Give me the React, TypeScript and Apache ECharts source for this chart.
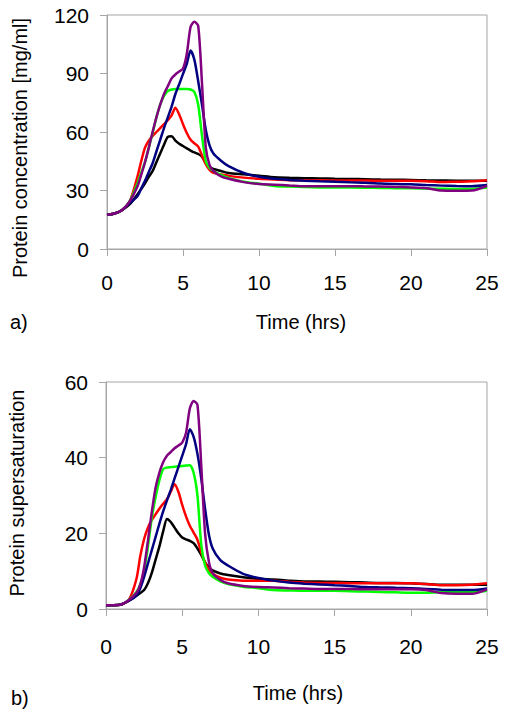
import React, { useEffect, useRef } from "react";
import * as echarts from "echarts";

const times = [0, 0.5, 1, 1.5, 2, 2.25, 2.5, 2.75, 3, 3.25, 3.5, 3.75, 4, 4.25, 4.5, 4.75, 5, 5.25, 5.5, 5.75, 6, 6.25, 6.5, 6.75, 7, 7.5, 8, 9, 10, 11, 12, 13, 14, 15, 16, 17, 18, 19, 20, 21, 22, 23, 24, 25];

// Panel a) protein concentration [mg/ml]
const concBlack = [17.5, 18.2, 20, 23, 28, 30.8, 33.7, 37, 40, 44.5, 49, 53.5, 57.5, 57.8, 55.6, 54, 52.8, 51.6, 50.5, 49.5, 48.7, 47.3, 44, 42, 41, 40, 39, 38.3, 37.6, 36.8, 36.5, 36.3, 36.2, 36, 35.9, 35.8, 35.6, 35.5, 35.4, 35.2, 35.1, 35, 35, 35];
const concRed = [17.5, 18.2, 20, 24.5, 37, 45, 52, 55.5, 58, 60, 62, 64, 66, 68.5, 72.5, 69, 64, 59.5, 56, 54.2, 52.5, 48, 43.5, 40.5, 39, 38.2, 37.5, 36.6, 36, 35.6, 35.3, 35.2, 35.2, 35.1, 35.1, 35.1, 35, 35, 35, 34.8, 34.3, 34.5, 34.7, 35.3];
const concGreen = [17.5, 18.2, 20, 24.5, 33.5, 39, 44.5, 52, 59.5, 67.5, 74, 78.5, 81, 81.8, 82, 82, 82, 82, 81.8, 80.5, 74, 58, 45, 41.5, 40, 38, 36.5, 34.5, 33.5, 32.3, 32, 31.8, 31.6, 31.5, 31.5, 31.4, 31.3, 31.2, 31.1, 31, 30.9, 30.8, 30.8, 31.5];
const concBlue = [17.5, 18.2, 20, 23.5, 27, 31, 35, 39.5, 44, 50, 56, 62, 67.5, 73, 79.5, 84.5, 89.8, 95, 101.8, 97, 86, 74, 61, 53, 49, 45.3, 42.5, 39, 37, 36, 35.4, 35, 34.7, 34.5, 34.2, 34, 33.6, 33.3, 33.2, 32.8, 32.5, 32.3, 32.2, 32.8];
const concPurple = [17.5, 18.2, 20, 24.5, 32, 38, 44.5, 52, 60, 67.5, 74, 79.5, 83.5, 87.5, 89.5, 91, 92.5, 100, 114, 116.5, 114.5, 85, 52, 43, 40, 37.3, 36, 34.3, 33.3, 33, 32.6, 32.2, 32.2, 32.2, 32.2, 32.1, 32, 31.8, 31.6, 31.2, 30, 29.9, 30, 32.4];

// Panel b) protein supersaturation
const satBlack = [1, 1, 1.2, 2.2, 3.5, 4.2, 5, 6.8, 9.5, 13, 16.5, 20.5, 23.8, 23, 21.5, 20, 18.9, 18.4, 18, 17.4, 16, 14.3, 12.3, 11, 10.2, 9.4, 9, 8.4, 8, 7.8, 7.5, 7.3, 7.3, 7.2, 7.1, 7, 6.9, 6.9, 6.8, 6.6, 6.4, 6.4, 6.4, 6.4];
const satRed = [1, 1, 1.2, 2.4, 8, 14, 18.5, 21.5, 23.5, 25, 26.5, 27.8, 29, 31, 33, 31, 27.5, 24.5, 22, 20.2, 18.3, 15, 12.3, 10.3, 9.3, 8.3, 7.8, 7.5, 7.5, 7.5, 7.2, 7, 6.9, 6.9, 6.8, 6.8, 6.8, 6.8, 6.8, 6.6, 6.3, 6.3, 6.4, 6.8];
const satGreen = [1, 1, 1.2, 2.4, 4.5, 6.5, 10, 16.5, 24, 29.5, 34, 37, 37.4, 37.5, 37.6, 37.7, 37.8, 37.9, 38, 36, 30, 17, 11.5, 9.5, 8.5, 7.3, 6.6, 5.9, 5.5, 5, 4.9, 4.8, 4.8, 4.8, 4.7, 4.6, 4.5, 4.4, 4.3, 4.3, 4.4, 4.4, 4.4, 4.8];
const satBlue = [1, 1, 1.2, 2.2, 3.5, 5.5, 8.5, 12, 15.5, 19, 22.5, 25.8, 28.7, 31.5, 34.5, 37.5, 40.5, 43.5, 47.5, 45.5, 41, 34.5, 26.5, 19.7, 16, 12.9, 11.5, 9.3, 8.2, 7.5, 7, 6.7, 6.5, 6.3, 6.1, 5.8, 5.7, 5.6, 5.5, 5.3, 5.1, 5, 5, 5.4];
const satPurple = [1, 1, 1.2, 2.4, 4.3, 6.5, 11, 18, 25.5, 32, 36, 38.8, 40.5, 41.5, 42.5, 43.2, 44, 46.5, 53, 55, 54, 38, 20, 12.5, 9.5, 7.7, 6.8, 6.1, 5.8, 5.7, 5.5, 5.4, 5.3, 5.3, 5.3, 5.2, 5.2, 5.2, 5.2, 5, 4.2, 4, 4, 5.2];

const xTicks = [0, 5, 10, 15, 20, 25];
const concTicks = [0, 30, 60, 90, 120];
const satTicks = [0, 20, 40, 60];

const colors = ["#000000", "#ff0000", "#00ff00", "#000080", "#800080"];
const FONT = "'Liberation Sans', Arial, sans-serif";

function pairs(vals: number[]) {
  return times.map((t, i) => [t, vals[i]]);
}

export default function App() {
  const ref = useRef<HTMLDivElement>(null);
  useEffect(() => {
    document.body.style.margin = "0";
    const chart = echarts.init(ref.current!, null, { renderer: "svg" });
    const axisGrey = "#a6a6a6";
    const xAxisBase = (gridIndex: number, margin: number) => ({
      type: "value" as const,
      gridIndex,
      min: xTicks[0],
      max: xTicks[xTicks.length - 1],
      interval: 5,
      axisLine: { show: true, lineStyle: { color: axisGrey, width: 1 } },
      axisTick: { show: true, inside: false, length: 7, lineStyle: { color: axisGrey } },
      axisLabel: { color: "#000", fontSize: 21, fontFamily: FONT, margin },
      splitLine: { show: false },
    });
    const yAxisBase = (gridIndex: number, ticks: number[]) => ({
      type: "value" as const,
      gridIndex,
      min: ticks[0],
      max: ticks[ticks.length - 1],
      interval: ticks[1] - ticks[0],
      axisLine: { show: true, lineStyle: { color: axisGrey, width: 1 } },
      axisTick: { show: true, inside: false, length: 7, lineStyle: { color: axisGrey } },
      axisLabel: { color: "#000", fontSize: 21, fontFamily: FONT, margin: 18 },
      splitLine: { show: false },
    });
    const mk = (name: string, vals: number[], idx: number, c: number) => ({
      name,
      type: "line" as const,
      xAxisIndex: idx,
      yAxisIndex: idx,
      data: pairs(vals),
      showSymbol: false,
      smooth: 0.25,
      lineStyle: { color: colors[c], width: 2.5 },
      itemStyle: { color: colors[c] },
    });
    chart.setOption({
      animation: false,
      backgroundColor: "#ffffff",
      grid: [
        { left: 107, top: 15, width: 380, height: 234, show: true, borderColor: axisGrey, borderWidth: 1 },
        { left: 106, top: 382, width: 381, height: 227, show: true, borderColor: axisGrey, borderWidth: 1 },
      ],
      xAxis: [xAxisBase(0, 23), xAxisBase(1, 27)],
      yAxis: [yAxisBase(0, concTicks), yAxisBase(1, satTicks)],
      series: [
        mk("a-black", concBlack, 0, 0),
        mk("a-red", concRed, 0, 1),
        mk("a-green", concGreen, 0, 2),
        mk("a-blue", concBlue, 0, 3),
        mk("a-purple", concPurple, 0, 4),
        mk("b-black", satBlack, 1, 0),
        mk("b-red", satRed, 1, 1),
        mk("b-green", satGreen, 1, 2),
        mk("b-blue", satBlue, 1, 3),
        mk("b-purple", satPurple, 1, 4),
      ],
      graphic: [
        {
          type: "text",
          x: 20,
          y: 148,
          rotation: Math.PI / 2,
          style: { text: "Protein concentration [mg/ml]", font: `20px ${FONT}`, fill: "#000", align: "center", verticalAlign: "middle" },
        },
        {
          type: "text",
          x: 17,
          y: 493,
          rotation: Math.PI / 2,
          style: { text: "Protein supersaturation", font: `20px ${FONT}`, fill: "#000", align: "center", verticalAlign: "middle" },
        },
        {
          type: "text",
          x: 301,
          y: 322,
          style: { text: "Time (hrs)", font: `20px ${FONT}`, fill: "#000", align: "center", verticalAlign: "middle" },
        },
        {
          type: "text",
          x: 298,
          y: 693,
          style: { text: "Time (hrs)", font: `20px ${FONT}`, fill: "#000", align: "center", verticalAlign: "middle" },
        },
        {
          type: "text",
          x: 10,
          y: 322,
          style: { text: "a)", font: `20px ${FONT}`, fill: "#000", align: "left", verticalAlign: "middle" },
        },
        {
          type: "text",
          x: 11,
          y: 698,
          style: { text: "b)", font: `20px ${FONT}`, fill: "#000", align: "left", verticalAlign: "middle" },
        },
      ],
    });
    return () => chart.dispose();
  }, []);
  return <div ref={ref} style={{ width: 510, height: 714 }} />;
}
